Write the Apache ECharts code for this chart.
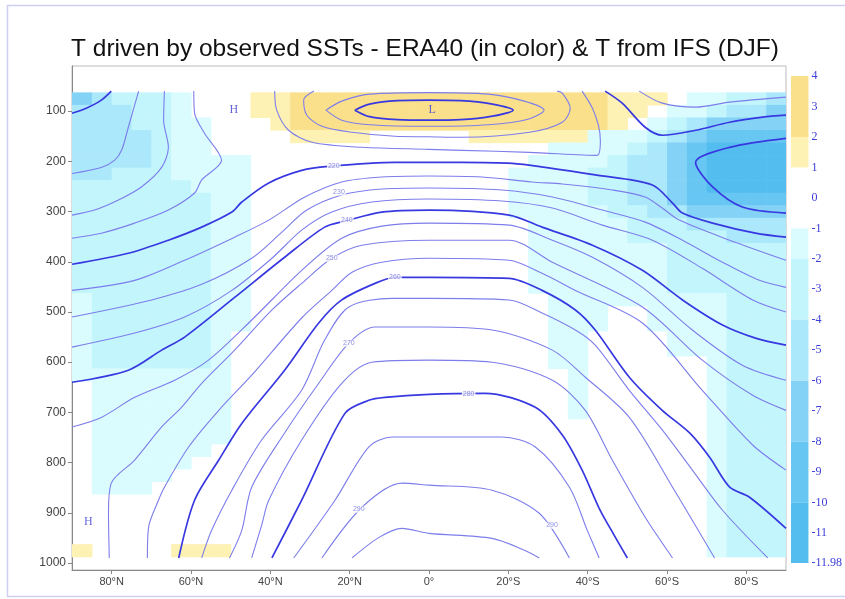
<!DOCTYPE html>
<html>
<head>
<meta charset="utf-8">
<script src="https://cdn.jsdelivr.net/npm/echarts@6/dist/echarts.min.js"></script>
<style>
  html, body { margin: 0; padding: 0; background: #fff; }
  #chart { width: 845px; height: 599px; }
</style>
</head>
<body>
<div id="chart"></div>
<script>
// grid of the colour field: 5 deg latitude columns (N positive), 25 hPa rows
const lats = [87.5, 82.5, 77.5, 72.5, 67.5, 62.5, 57.5, 52.5, 47.5, 42.5, 37.5, 32.5,
  27.5, 22.5, 17.5, 12.5, 7.5, 2.5, -2.5, -7.5, -12.5, -17.5, -22.5, -27.5,
  -32.5, -37.5, -42.5, -47.5, -52.5, -57.5, -62.5, -67.5, -72.5, -77.5, -82.5, -87.5];
const levels = [75, 100, 125, 150, 175, 200, 225, 250, 275, 300, 325, 350, 375, 400,
  425, 450, 475, 500, 525, 550, 575, 600, 625, 650, 675, 700, 725, 750, 775, 800,
  825, 850, 875, 900, 925, 950, 975];

// anomaly class per cell (Y 2..4, y 1..2, a -1..-2, b -2..-4, c -4..-6, d -6..-8, e -8..-10, f -10..-12)
const classValue = { Y: 3, y: 1.5, a: -1.5, b: -3, c: -5, d: -7, e: -9, f: -11 };
// columns 90N-45N
const northRows = [
  'dcbbba...', 'cccbba...', 'cccbbaa..', 'ccccbaa..', 'ccccbaa..', 'ccccbaaaa', 'ccbbbaaaa',
  'bbbbbbaaa', 'bbbbbbbaa', 'bbbbbbbaa', 'bbbbbbbaa', 'bbbbbbbaa', 'bbbbbbbaa', 'bbbbbbbaa',
  'bbbbbbbaa', 'bbbbbbbaa', 'abbbbbbaa', 'abbbbbbaa', 'abbbbbbaa', 'abbbbbba.', 'abbbbbba.',
  'abbbbbba.', 'aaaaaaaa.', '.aaaaaaa.', '.aaaaaaa.', '.aaaaaaa.', '.aaaaaaa.', '.aaaaaaa.',
  '.aaaaaa..', '.aaaaa...', '.aaaa....', '.aaa.....', '.........', '.........', '.........',
  '.........', 'y....yyy.'
];
// columns 45N-20S
const midRows = [
  'yyYYYYYYYYYYY', 'yyYYYYYYYYYYY', '.yYYYYYYYYYYY', '..yyyy.....yy',
  '.............', '.............', '.............', '.............', '.............',
  '.............', '.............', '.............', '.............', '.............',
  '.............', '.............', '.............', '.............', '.............',
  '.............', '.............', '.............', '.............', '.............',
  '.............', '.............', '.............', '.............', '.............',
  '.............', '.............', '.............', '.............', '.............',
  '.............', '.............', '.............'
];
// columns 20S-90S
const southRows = [
  'YYYYYyyy.aabbc', 'YYYYYyy.aabccd', 'YYYYYy.abcdddd', 'yyyyaaabcdeeee', '..aaaabcdeffff',
  '.aaaabccdeffff', 'aaaabbccdeffff', 'aaaabbccdeffff', 'aaaabbccdeeeee', 'aaaaabbccddddd',
  '.aaaaabbbccccc', '.aaaaabbbbbccc', '.aaaaaaabbbbbb', '.aaaaaaabbbbbb', '.aaaaaaabbbbbb',
  '.aaaaaaabbbbbb', '..aaaaaaaaabbb', '..aaa..aaaabbb', '..aaa..aaaabbb', '..aa....aaabbb',
  '..aa....aaabbb', '..aa......abbb', '...a......abbb', '...a......abbb', '...a......abbb',
  '...a......abbb', '..........abbb', '..........abbb', '..........abbb', '..........abbb',
  '..........abbb', '..........abbb', '..........abbb', '..........abbb', '..........abbb',
  '..........abbb', '..........abbb'
];

// colour bar bands [low, high, colour]
const bands = [
  [2, 4, '#fbe08c'], [1, 2, '#fdf1b4'],
  [-2, -1, '#dbfcfe'], [-4, -2, '#c3f5fd'], [-6, -4, '#abe8fb'],
  [-8, -6, '#84d3f7'], [-10, -8, '#68c6f3'], [-11.98, -10, '#54bdf0']
];
const barTicks = [4, 3, 2, 1, 0, -1, -2, -3, -4, -5, -6, -7, -8, -9, -10, -11, -11.98];
const latTicks = [80, 60, 40, 20, 0, -20, -40, -60, -80];
const pTicks = [100, 200, 300, 400, 500, 600, 700, 800, 900, 1000];

// IFS temperature contours [lat, hPa]
const c200n = [[90, 104], [86.4, 94], [82.6, 78], [80.1, 60]];
const c205n = [[90, 224], [82.6, 212], [79.3, 198], [77.5, 178], [75.8, 132], [73.2, 60]];
const c210n = [[90, 307], [84.3, 297], [78.3, 277], [72.5, 251], [67.4, 212], [65.7, 172], [66.9, 118], [66.7, 60]];
const c215n = [[90, 353], [82.6, 343], [74.2, 323], [65.7, 297], [59.1, 263], [57.3, 237], [52.3, 198], [56.6, 144], [59.1, 104], [59.3, 60]];
const c200t = [[18.7, 98], [15, 86], [8, 79], [0, 78], [-8, 79], [-16, 86], [-21.2, 98], [-16, 110], [-8, 117], [0, 118], [8, 117], [15, 111], [18.7, 98]];
const c205t = [[26, 98], [22, 80], [15, 66], [0, 63], [-15, 66], [-24, 80], [-29, 98], [-25, 116], [-15, 127], [0, 130], [15, 127], [22, 118], [26, 98]];
const c210t = [[29, 60], [31.6, 78], [30.8, 108], [27, 130], [19.4, 142], [8.6, 150], [0, 151], [-8.3, 152], [-25.3, 142], [-33.6, 122], [-35.6, 94], [-33.6, 64], [-32.3, 60]];
const c215t = [[38.9, 60], [38.4, 98], [35.4, 138], [29.5, 162], [16.9, 172], [0, 176], [-8.3, 178], [-25.3, 182], [-42.4, 188], [-43.2, 158], [-42.7, 128], [-41.2, 94], [-38.6, 60]];
const c220 = [[90, 405], [75.8, 383], [65.7, 357], [57.3, 331], [49.7, 301], [47.2, 281], [40.4, 243], [32.1, 218], [25.3, 210], [8.6, 202], [-8.3, 202], [-21, 204], [-29.3, 212], [-41.9, 227], [-56.3, 247], [-61.4, 283], [-63.9, 303], [-71.5, 323], [-82.3, 343], [-90, 351]];
const s1 = [[-44.4, 60], [-48.7, 84], [-54.5, 132], [-58.8, 148], [-67.2, 138], [-75.8, 122], [-84.1, 112], [-90, 108]];
const s2 = [[-53, 60], [-58.8, 84], [-67.2, 92], [-75.8, 82], [-90, 72]];
const s3 = [[-90, 154], [-75.8, 172], [-67.2, 202], [-71.5, 251], [-79, 291], [-90, 303]];
const c225 = [[90, 457], [74.2, 437], [61.6, 397], [49, 351], [40.4, 317], [31.3, 271], [22, 241], [11.9, 231], [0, 229], [-13.4, 231], [-26, 241], [-33.6, 245], [-46.2, 257], [-54.5, 271], [-58.8, 293], [-63.1, 317], [-75.8, 357], [-90, 397]];
const c230 = [[90, 510], [69.9, 476], [57.3, 445], [44.7, 393], [37.1, 341], [30.8, 297], [22, 267], [11.9, 255], [0, 253], [-18.4, 257], [-31.1, 271], [-43.7, 297], [-54.5, 321], [-63.9, 357], [-74, 401], [-83.3, 437], [-90, 451]];
const c235 = [[90, 570], [74.2, 542], [61.6, 510], [49.7, 457], [39.6, 393], [32.1, 337], [24.5, 301], [14.4, 281], [0, 275], [-18.4, 279], [-31.1, 293], [-43.7, 327], [-56.3, 357], [-68.9, 413], [-81.6, 476], [-90, 500]];
const c240 = [[90, 640], [75.8, 616], [67.4, 576], [61.6, 550], [49, 471], [36.4, 391], [26.3, 331], [21.2, 319], [11.9, 301], [0, 297], [-20.2, 307], [-28.5, 331], [-41.2, 367], [-53.8, 417], [-63.9, 476], [-74, 526], [-82.3, 552], [-90, 566]];
const c245 = [[90, 729], [82.6, 710], [74.2, 670], [64.1, 636], [55.6, 596], [44.7, 516], [32.1, 417], [22, 353], [11.9, 329], [0, 323], [-20.2, 327], [-31.1, 357], [-41.2, 391], [-53.8, 451], [-66.4, 536], [-79, 606], [-90, 636]];
const c250 = [[80.6, 990], [80.8, 901], [80.1, 841], [74.2, 795], [67.4, 729], [62.4, 690], [57.3, 642], [49, 576], [39.6, 496], [32.1, 443], [24.5, 393], [16.9, 367], [0, 357], [-20.2, 357], [-31.1, 401], [-53.8, 490], [-68.9, 596], [-81.6, 666], [-90, 696]];
const c255 = [[71, 990], [70.7, 929], [68.2, 875], [66.7, 849], [60.6, 769], [53, 696], [44.7, 626], [32.1, 512], [24.5, 457], [19.4, 421], [11.9, 401], [0, 393], [-20.2, 397], [-28.5, 423], [-36.9, 457], [-53.8, 522], [-68.9, 656], [-81.6, 765], [-90, 815]];
const c260 = [[63.1, 990], [59.1, 875], [53, 795], [47.2, 722], [36.4, 616], [27.8, 522], [22, 476], [13.6, 443], [8.6, 431], [0, 431], [-20.2, 433], [-28.5, 457], [-36.9, 496], [-41.9, 536], [-50.5, 630], [-58.8, 696], [-65.7, 741], [-70.7, 789], [-75.8, 849], [-80.8, 869], [-90, 931]];
const c265 = [[57.3, 990], [54.8, 935], [49.7, 855], [42.2, 755], [32.1, 656], [26.3, 556], [20.2, 490], [9.3, 473], [0, 473], [-20.2, 476], [-28.5, 502], [-36.9, 536], [-41.9, 566], [-50.5, 656], [-58.8, 735], [-66.4, 815], [-74, 895], [-85.4, 990]];
const c270 = [[50.3, 990], [47.2, 935], [44.7, 849], [36.4, 741], [27.8, 642], [20.2, 562], [13.6, 530], [0, 530], [-15.9, 536], [-31.1, 576], [-39.4, 630], [-50.5, 710], [-61.4, 849], [-72, 990]];
const c275 = [[44.7, 990], [42.2, 925], [40.4, 875], [32.1, 755], [22, 642], [14.4, 600], [0, 596], [-15.9, 600], [-31.1, 636], [-39.4, 696], [-46.2, 795], [-54.5, 909], [-61.4, 990]];
const c280 = [[39.6, 990], [32.1, 875], [21.2, 702], [15.2, 676], [11.1, 670], [0, 664], [-14.1, 662], [-26.8, 690], [-33.6, 745], [-38.6, 815], [-42.9, 891], [-46.7, 945], [-50, 990]];
const c285 = [[34.1, 990], [23.7, 875], [15.2, 769], [9.3, 749], [0, 749], [-18.4, 749], [-26.8, 769], [-35.4, 849], [-39.9, 935], [-42.9, 990]];
const c290 = [[27, 990], [16.9, 889], [6.8, 841], [0, 845], [-15.9, 855], [-27.8, 901], [-35.4, 990]];
const c295 = [[19.4, 990], [12.6, 949], [6.8, 931], [0, 941], [-15.9, 951], [-24.2, 975], [-27.8, 990]];

const boldLines = [c200n, c200t, c220, c240, c260, c280, s1, s3];
const thinLines = [c205n, c210n, c215n, c205t, c210t, c215t, s2, c225, c230, c235,
  c245, c250, c255, c265, c270, c275, c285, c290, c295];

// contour value tags [text, lat, hPa]
const tags = [['220', 24, 209], ['230', 22.7, 261], ['240', 20.7, 317], ['250', 24.5, 393],
  ['260', 8.6, 431], ['270', 20.2, 562], ['280', -10, 664], ['290', 17.7, 893], ['290', -31, 925]];

// H / L marks [text, lat, hPa]
const marks = [['H', 49.2, 98], ['L', -0.8, 98], ['H', 85.9, 919]];

const heatData = [];
for (let r = 0; r < levels.length; r++) {
  const row = northRows[r] + midRows[r] + southRows[r];
  for (let c = 0; c < lats.length; c++) {
    const k = row[c];
    if (k !== '.') heatData.push([lats[c], levels[r], classValue[k]]);
  }
}

function cellItem(params, api) {
  const lat = api.value(0), p = api.value(1);
  const a = api.coord([lat + 2.5, p - 12.5]);
  const b = api.coord([lat - 2.5, p + 12.5]);
  return {
    type: 'rect',
    shape: {
      x: Math.min(a[0], b[0]), y: Math.min(a[1], b[1]),
      width: Math.abs(b[0] - a[0]) + 0.6, height: Math.abs(b[1] - a[1]) + 0.6
    },
    style: { fill: api.visual('color') }
  };
}

function bandItem(params, api) {
  const lo = api.coord([0, api.value(1)]);
  const hi = api.coord([0, api.value(2)]);
  const w = api.size([1, 0])[0];
  return {
    type: 'rect',
    shape: { x: lo[0] - w / 2, y: hi[1], width: w, height: lo[1] - hi[1] },
    style: { fill: bands[params.dataIndex][2] }
  };
}

function latLabel(v) {
  if (v === 0) return '0°';
  return v > 0 ? v + '°N' : (-v) + '°S';
}

const lineSeries = [];
boldLines.forEach(d => lineSeries.push({
  type: 'line', data: d, symbol: 'none', smooth: 0.3, silent: true, z: 4,
  lineStyle: { color: '#3838e0', width: 1.7 }
}));
thinLines.forEach(d => lineSeries.push({
  type: 'line', data: d, symbol: 'none', smooth: 0.3, silent: true, z: 3,
  lineStyle: { color: '#7d7deb', width: 1.1 }
}));

const chart = echarts.init(document.getElementById('chart'));
chart.setOption({
  animation: false,
  backgroundColor: '#fff',
  title: {
    text: 'T driven by observed SSTs - ERA40 (in color) & T from IFS (DJF)',
    left: 66, top: 32,
    textStyle: { fontFamily: 'Liberation Sans', fontSize: 24.5, fontWeight: 'normal', color: '#111' }
  },
  graphic: [{
    type: 'rect', silent: true, z: -1,
    shape: { x: 7.5, y: 5.5, width: 900, height: 591 },
    style: { fill: 'none', stroke: '#cfcff3', lineWidth: 1.5 }
  }],
  grid: [
    { left: 72, top: 66, width: 714, height: 504, show: true, borderColor: '#bbb', borderWidth: 1 },
    { left: 791, top: 76, width: 18, height: 487 }
  ],
  visualMap: {
    type: 'piecewise', show: false, seriesIndex: 0, dimension: 2,
    pieces: bands.map(b => ({ gte: b[0], lt: b[1] === 4 ? 4.01 : b[1], color: b[2] }))
  },
  xAxis: [{
    type: 'value', min: -90, max: 90, inverse: true,
    axisLine: { show: true, onZero: false, lineStyle: { color: '#888' } },
    axisTick: { show: true, customValues: latTicks, length: 4, lineStyle: { color: '#888' } },
    axisLabel: { customValues: latTicks, formatter: latLabel, color: '#444', fontSize: 11, fontFamily: 'Liberation Sans', margin: 6 },
    splitLine: { show: false }
  }, {
    gridIndex: 1, type: 'category', data: [''], show: false
  }],
  yAxis: [{
    type: 'value', min: 10, max: 1014, inverse: true,
    axisLine: { show: true, onZero: false, lineStyle: { color: '#888' } },
    axisTick: { show: true, customValues: pTicks, length: 4, lineStyle: { color: '#888' } },
    axisLabel: { customValues: pTicks, formatter: v => String(v), color: '#444', fontSize: 12, fontFamily: 'Liberation Sans', margin: 6 },
    splitLine: { show: false }
  }, {
    gridIndex: 1, type: 'value', min: -11.98, max: 4, position: 'right',
    axisLine: { show: false }, axisTick: { show: false }, splitLine: { show: false },
    axisLabel: { customValues: barTicks, formatter: v => String(v), color: '#3c3cd8', fontSize: 12, fontFamily: 'Liberation Serif', margin: 3 }
  }],
  series: [{
    type: 'custom', renderItem: cellItem, data: heatData, clip: true, silent: true, z: 1,
    encode: { x: 0, y: 1 }
  }].concat(lineSeries).concat([{
    type: 'scatter', symbolSize: 1, silent: true, z: 6,
    itemStyle: { color: 'rgba(0,0,0,0)' },
    data: marks.map(m => ({ name: m[0], value: [m[1], m[2]] })),
    label: { show: true, position: 'inside', formatter: '{b}', color: '#3c3cd8', fontFamily: 'Liberation Serif', fontSize: 12 }
  }, {
    type: 'scatter', symbolSize: 1, silent: true, z: 5,
    itemStyle: { color: 'rgba(0,0,0,0)' },
    data: tags.map(t => ({ name: t[0], value: [t[1], t[2]] })),
    label: {
      show: true, position: 'inside', formatter: '{b}', color: '#7070e0', fontFamily: 'Liberation Sans',
      fontSize: 7, backgroundColor: '#fff', padding: [0, 1]
    }
  }, {
    type: 'custom', xAxisIndex: 1, yAxisIndex: 1, renderItem: bandItem, silent: true,
    data: bands.map(b => [0, b[0], b[1]]), encode: { x: 0, y: [1, 2] }
  }])
});
</script>
</body>
</html>
